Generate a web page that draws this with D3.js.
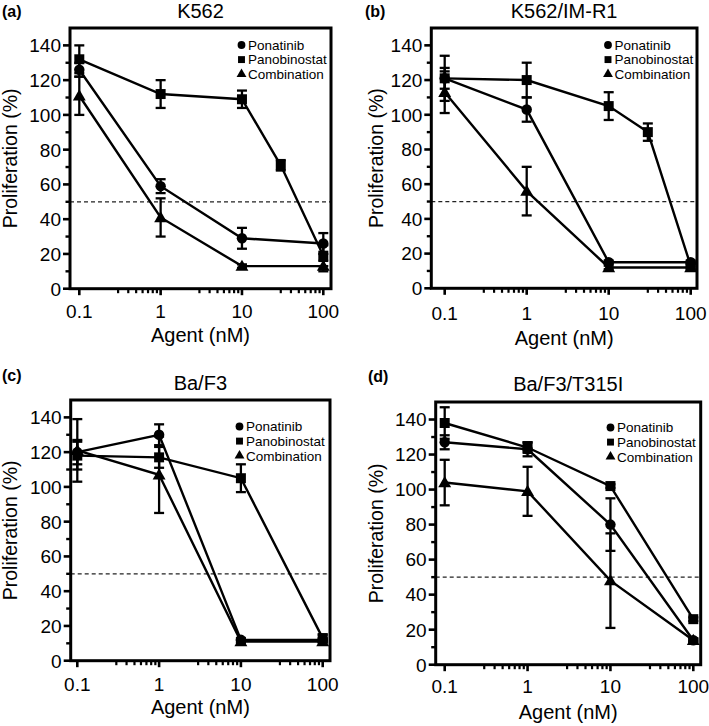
<!DOCTYPE html>
<html><head><meta charset="utf-8">
<script src="https://cdn.jsdelivr.net/npm/d3@7"></script>
<style>
body{margin:0;background:#fff}
svg{display:block}
text{font-family:"Liberation Sans",Arial,Helvetica,sans-serif;fill:#000}
</style>
</head><body>
<svg id="chart" width="709" height="726"></svg>
<script>
// ---------- data ----------
const doses = [0.1, 1, 10, 100];
const dosesPano = [0.1, 1, 10, 30, 100];
const xTickValues = [0.1, 1, 10, 100];
const xTickLabels = ["0.1", "1", "10", "100"];
const yTickValues = [0, 20, 40, 60, 80, 100, 120, 140];
const seriesNames = ["Ponatinib", "Panobinostat", "Combination"];
const panelLabels = ["(a)", "(b)", "(c)", "(d)"];
const panelTitles = ["K562", "K562/IM-R1", "Ba/F3", "Ba/F3/T315I"];
const xAxisTitle = "Agent (nM)";
const yAxisTitle = "Proliferation (%)";
const refLine = 50;

// (a) K562
const aPona = [126, 59, 29, 26],       aPonaErr = [4, 4, 6, 6];
const aPano = [132, 112, 109, 71, 19], aPanoErr = [8, 8, 5, 3, 6];
const aCombo = [111, 41, 13, 13],      aComboErr = [11, 11, 1, 3];
// (b) K562/IM-R1
const bPona = [121, 103, 15, 15],      bPonaErr = [6, 7, 1, 1];
const bPano = [121, 120, 105, 90, 13], bPanoErr = [13, 10, 8, 5, 1];
const bCombo = [113, 56, 12, 12],      bComboErr = [12, 14, 1, 1];
// (c) Ba/F3
const cPona = [120, 130, 12, 12],      cPonaErr = [7, 6, 1, 1];
const cPano = [118, 117, 105, 13],     cPanoErr = [8, 6, 8, 2];
const cCombo = [121, 107, 11, 11],     cComboErr = [18, 22, 1, 1];
// (d) Ba/F3/T315I
const dPona = [127, 123, 80, 14],      dPonaErr = [4, 4, 15, 1];
const dPano = [138, 124, 102, 26],     dPanoErr = [9, 3, 1, 1];
const dCombo = [104, 99, 48, 14],      dComboErr = [13, 14, 27, 1];

const panelData = [
  [{x: doses, y: aPona, e: aPonaErr}, {x: dosesPano, y: aPano, e: aPanoErr}, {x: doses, y: aCombo, e: aComboErr}],
  [{x: doses, y: bPona, e: bPonaErr}, {x: dosesPano, y: bPano, e: bPanoErr}, {x: doses, y: bCombo, e: bComboErr}],
  [{x: doses, y: cPona, e: cPonaErr}, {x: doses, y: cPano, e: cPanoErr}, {x: doses, y: cCombo, e: cComboErr}],
  [{x: doses, y: dPona, e: dPonaErr}, {x: doses, y: dPano, e: dPanoErr}, {x: doses, y: dCombo, e: dComboErr}]
];

// ---------- layout ----------
const layout = [
  {x0: 70,    x1: 331,   top: 28,  bottom: 288.7, px01: 79.3,  px100: 323.3, label: [2, 17],   title: 18,  tick: 318, xt: 342, yl: 16.5,  leg: [241.5, 45]},
  {x0: 431.3, x1: 697,   top: 28,  bottom: 288.3, px01: 444.7, px100: 690.7, label: [365, 17], title: 18,  tick: 320, xt: 345, yl: 382.5, leg: [608, 45]},
  {x0: 70.7,  x1: 330,   top: 400, bottom: 660.7, px01: 77.3,  px100: 322.7, label: [2, 381],  title: 390, tick: 691, xt: 714, yl: 16.5,  leg: [239.5, 426.5]},
  {x0: 435.7, x1: 700.7, top: 402, bottom: 664.7, px01: 444.7, px100: 693.3, label: [368, 382], title: 391, tick: 693, xt: 719, yl: 382.5, leg: [610.5, 427.5]}
];

const svg = d3.select("#chart");
const symbols = [d3.symbolCircle, d3.symbolSquare, d3.symbolTriangle];
const symSizes = [86, 100, 72];
const legSizes = [48, 48, 42];

layout.forEach((L, pi) => {
  const g = svg.append("g");
  const x = d3.scaleLog().domain([0.1, 100]).range([L.px01, L.px100]);
  const y = d3.scaleLinear().domain([0, 150]).range([L.bottom, L.top]);

  // dashed reference line
  g.append("line")
    .attr("x1", L.x0).attr("x2", L.x1)
    .attr("y1", y(refLine)).attr("y2", y(refLine))
    .attr("stroke", "#222").attr("stroke-width", 1.2).attr("stroke-dasharray", "4,3");

  // y ticks
  const yMinor = d3.range(10, 150, 20);
  g.selectAll(".ymaj").data(yTickValues).enter().append("line")
    .attr("x1", L.x0 - 7).attr("x2", L.x0).attr("y1", d => y(d)).attr("y2", d => y(d))
    .attr("stroke", "#000").attr("stroke-width", 2.6);
  g.selectAll(".ymin").data(yMinor).enter().append("line")
    .attr("x1", L.x0 - 4.5).attr("x2", L.x0).attr("y1", d => y(d)).attr("y2", d => y(d))
    .attr("stroke", "#000").attr("stroke-width", 2.4);
  g.selectAll(".ylab").data(yTickValues).enter().append("text")
    .attr("x", L.x0 - 9).attr("y", d => y(d)).attr("dy", "0.36em")
    .attr("text-anchor", "end").attr("font-size", 19).text(d => d);

  // x ticks
  const xMinor = [];
  [0.1, 1, 10].forEach(b => { for (let k = 3; k <= 9; k++) xMinor.push(b * k); });
  g.selectAll(".xmaj").data(xTickValues).enter().append("line")
    .attr("x1", d => x(d)).attr("x2", d => x(d)).attr("y1", L.bottom).attr("y2", L.bottom + 6.5)
    .attr("stroke", "#000").attr("stroke-width", 2.6);
  g.selectAll(".xmin").data(xMinor).enter().append("line")
    .attr("x1", d => x(d)).attr("x2", d => x(d)).attr("y1", L.bottom).attr("y2", L.bottom + 4.5)
    .attr("stroke", "#000").attr("stroke-width", 2.2);
  g.selectAll(".xlab").data(xTickValues).enter().append("text")
    .attr("x", d => x(d)).attr("y", L.tick)
    .attr("text-anchor", "middle").attr("font-size", 19).text((d, i) => xTickLabels[i]);

  // frame
  g.append("rect")
    .attr("x", L.x0).attr("y", L.top).attr("width", L.x1 - L.x0).attr("height", L.bottom - L.top)
    .attr("fill", "none").attr("stroke", "#000").attr("stroke-width", 3);

  // series
  const series = panelData[pi];
  const line = d3.line().x(d => x(d[0])).y(d => y(d[1]));
  series.forEach((s, si) => {
    const pts = s.x.map((v, i) => [v, s.y[i], s.e[i]]);
    g.append("path").datum(pts).attr("d", line)
      .attr("fill", "none").attr("stroke", "#000").attr("stroke-width", 2.4);
  });
  series.forEach((s, si) => {
    const pts = s.x.map((v, i) => [v, s.y[i], s.e[i]]);
    const eg = g.append("g").attr("stroke", "#000").attr("stroke-width", 2.3);
    pts.forEach(p => {
      const cx = x(p[0]), hi = y(p[1] + p[2]), lo = y(p[1] - p[2]);
      eg.append("line").attr("x1", cx).attr("x2", cx).attr("y1", hi).attr("y2", lo);
      eg.append("line").attr("x1", cx - 5).attr("x2", cx + 5).attr("y1", hi).attr("y2", hi);
      eg.append("line").attr("x1", cx - 5).attr("x2", cx + 5).attr("y1", lo).attr("y2", lo);
    });
  });
  series.forEach((s, si) => {
    const pts = s.x.map((v, i) => [v, s.y[i]]);
    g.selectAll(null).data(pts).enter().append("path")
      .attr("d", d3.symbol().type(symbols[si]).size(symSizes[si]))
      .attr("transform", d => `translate(${x(d[0])},${y(d[1]) + (si === 2 ? 1 : 0)})`)
      .attr("fill", "#000");
  });

  // legend
  seriesNames.forEach((n, si) => {
    const ly = L.leg[1] + si * 14.6;
    g.append("path").attr("d", d3.symbol().type(symbols[si]).size(legSizes[si]))
      .attr("transform", `translate(${L.leg[0]},${ly})`).attr("fill", "#000");
    g.append("text").attr("x", L.leg[0] + 6.5).attr("y", ly).attr("dy", "0.36em")
      .attr("font-size", 13.5).text(n);
  });

  // titles
  svg.append("text").attr("x", L.label[0]).attr("y", L.label[1])
    .attr("font-size", 16).attr("font-weight", "bold").text(panelLabels[pi]);
  svg.append("text").attr("x", (L.x0 + L.x1) / 2).attr("y", L.title)
    .attr("text-anchor", "middle").attr("font-size", 20).text(panelTitles[pi]);
  svg.append("text").attr("x", (L.x0 + L.x1) / 2).attr("y", L.xt)
    .attr("text-anchor", "middle").attr("font-size", 20).text(xAxisTitle);
  svg.append("text")
    .attr("transform", `translate(${L.yl},${(L.top + L.bottom) / 2}) rotate(-90)`)
    .attr("text-anchor", "middle").attr("font-size", 19.5).text(yAxisTitle);
});
</script>
</body></html>
